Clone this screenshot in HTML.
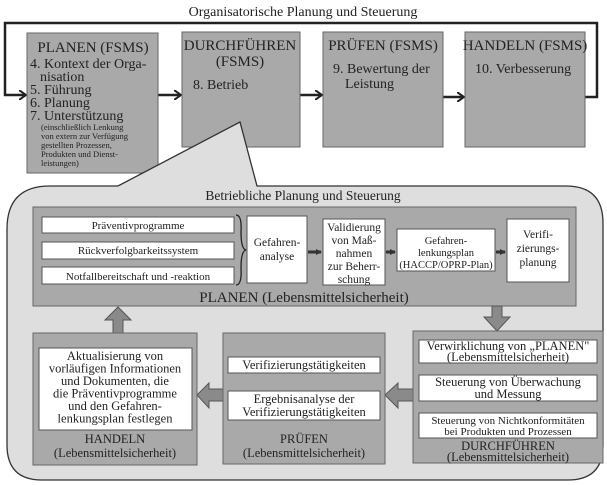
<!DOCTYPE html>
<html><head><meta charset="utf-8"><style>
html,body{margin:0;padding:0;background:#fff}
svg{display:block}
text{font-family:"Liberation Serif",serif;fill:#222}
</style></head><body>
<svg width="607" height="485" viewBox="0 0 607 485" xmlns="http://www.w3.org/2000/svg">
<defs>
<marker id="ah" markerWidth="8" markerHeight="10" refX="6" refY="5" orient="auto" markerUnits="userSpaceOnUse">
<path d="M0,0 L7,5 L0,10" fill="none" stroke="#222" stroke-width="2"/></marker>
<marker id="sh" markerWidth="6" markerHeight="6" refX="5" refY="3" orient="auto" markerUnits="userSpaceOnUse">
<path d="M0,0 L6,3 L0,6z" fill="#333"/></marker>
</defs>
<text x="303" y="16" text-anchor="middle" font-size="14">Organisatorische Planung und Steuerung</text>
<path d="M577,97 H597 V23 H5 V95 H25" fill="none" stroke="#222" stroke-width="2.5" marker-end="url(#ah)"/>
<line x1="158" y1="95" x2="180" y2="95" stroke="#222" stroke-width="2.5" marker-end="url(#ah)"/>
<line x1="300" y1="95" x2="321" y2="95" stroke="#222" stroke-width="2.5" marker-end="url(#ah)"/>
<line x1="443" y1="97" x2="463" y2="97" stroke="#222" stroke-width="2.5" marker-end="url(#ah)"/>
<g stroke="#666" stroke-width="1" fill="#a9a9a9">
<rect x="27" y="33" width="131" height="140"/>
<rect x="182" y="32" width="118" height="115"/>
<rect x="323" y="32" width="120" height="115"/>
<rect x="465" y="32" width="120" height="115"/>
</g>
<text x="93" y="52" text-anchor="middle" font-size="15">PLANEN (FSMS)</text>
<text font-size="14"><tspan x="30" y="68">4. Kontext der Orga-</tspan><tspan x="40" y="81">nisation</tspan><tspan x="30" y="94">5. Führung</tspan><tspan x="30" y="107">6. Planung</tspan><tspan x="30" y="120">7. Unterstützung</tspan></text>
<text font-size="8.5"><tspan x="41" y="130">(einschließlich Lenkung</tspan><tspan x="41" y="139">von extern zur Verfügung</tspan><tspan x="41" y="148">gestellten Prozessen,</tspan><tspan x="41" y="157">Produkten und Dienst-</tspan><tspan x="41" y="166">leistungen)</tspan></text>
<text x="240" y="50" text-anchor="middle" font-size="15">DURCHFÜHREN</text>
<text x="240" y="66" text-anchor="middle" font-size="15">(FSMS)</text>
<text x="193" y="89" font-size="14">8. Betrieb</text>
<text x="383" y="50" text-anchor="middle" font-size="15">PRÜFEN (FSMS)</text>
<text font-size="14"><tspan x="333" y="73">9. Bewertung der</tspan><tspan x="345" y="88">Leistung</tspan></text>
<text x="525" y="50" text-anchor="middle" font-size="15">HANDELN (FSMS)</text>
<text x="475" y="73" font-size="14">10. Verbesserung</text>
<!-- callout -->
<path d="M50,186 H118 L240,122 L257,186 H566 Q603,186 603,223 V445 Q603,480 568,480 H42 Q7,480 7,445 V229 Q7,186 50,186 Z" fill="#dedede" stroke="#333" stroke-width="1.3"/>
<text x="303" y="200" text-anchor="middle" font-size="13.5">Betriebliche Planung und Steuerung</text>
<rect x="33" y="207" width="543" height="99" fill="#a9a9a9" stroke="#666"/>
<g fill="#fff" stroke="#555">
<rect x="42" y="217" width="192" height="16"/>
<rect x="42" y="242" width="192" height="17"/>
<rect x="42" y="267" width="192" height="17"/>
<rect x="247" y="216" width="60" height="67"/>
<rect x="323" y="219" width="62" height="66"/>
<rect x="397" y="229" width="98" height="42"/>
<rect x="507" y="219" width="62" height="63"/>
</g>
<path d="M236,215 Q242,215 241,232 Q241,249 246,250 Q241,251 241,268 Q242,285 236,285" fill="none" stroke="#222" stroke-width="1.3"/>
<g font-size="11" text-anchor="middle">
<text x="138" y="229">Präventivprogramme</text>
<text x="138" y="254">Rückverfolgbarkeitssystem</text>
<text x="138" y="280">Notfallbereitschaft und -reaktion</text>
</g>
<g font-size="10.5" text-anchor="middle">
<text x="446" y="244">Gefahren-</text><text x="446" y="256">lenkungsplan</text><text x="446" y="268">(HACCP/OPRP-Plan)</text>
</g>
<g font-size="11.5" text-anchor="middle">
<text x="277" y="246">Gefahren-</text><text x="277" y="260">analyse</text>
<text x="354" y="231">Validierung</text><text x="354" y="244">von Maß-</text><text x="354" y="257">nahmen</text><text x="354" y="270">zur Beherr-</text><text x="354" y="283">schung</text>
<text x="538" y="238">Verifi-</text><text x="538" y="252">zierungs-</text><text x="538" y="266">planung</text>
</g>
<g stroke="#333" stroke-width="3" marker-end="url(#sh)">
<line x1="308" y1="252" x2="321" y2="252"/>
<line x1="386" y1="252" x2="395" y2="252"/>
<line x1="496" y1="252" x2="505" y2="252"/>
</g>
<text x="304" y="302" text-anchor="middle" font-size="15">PLANEN (Lebensmittelsicherheit)</text>
<!-- block arrows -->
<g fill="#8a8a8a" stroke="#555">
<path d="M113,333 V320 H105 L118,307 L131,320 H123 V333 Z"/>
<path d="M492,306 V317 H484 L497,331 L510,317 H502 V306 Z"/>
<path d="M413,389 H398 V383 L385,395 L398,408 V401 H413 Z"/>
<path d="M223,389 H209 V383 L197,395 L209,408 V401 H223 Z"/>
</g>
<g fill="#a9a9a9" stroke="#666">
<rect x="33" y="333" width="164" height="132"/>
<rect x="223" y="333" width="162" height="131"/>
<rect x="413" y="331" width="190" height="132"/>
</g>
<g fill="#fff" stroke="#555">
<rect x="39" y="348" width="153" height="82"/>
<rect x="228" y="357" width="152" height="16"/>
<rect x="228" y="391" width="152" height="29"/>
<rect x="419" y="340" width="178" height="23"/>
<rect x="419" y="375" width="178" height="26"/>
<rect x="419" y="413" width="178" height="25"/>
</g>
<g font-size="12.5" text-anchor="middle">
<text x="115" y="360">Aktualisierung von</text><text x="115" y="372.5">vorläufigen Informationen</text><text x="115" y="385">und Dokumenten, die</text><text x="115" y="397.5">die Präventivprogramme</text><text x="115" y="410">und den Gefahren-</text><text x="115" y="422.5">lenkungsplan festlegen</text>
<text x="115" y="443">HANDELN</text><text x="115" y="457">(Lebensmittelsicherheit)</text>
<text x="304" y="369">Verifizierungstätigkeiten</text>
<text x="304" y="403">Ergebnisanalyse der</text><text x="304" y="416">Verifizierungstätigkeiten</text>
<text x="304" y="443">PRÜFEN</text><text x="304" y="457">(Lebensmittelsicherheit)</text>
<text x="508" y="350">Verwirklichung von „PLANEN"</text><text x="508" y="361">(Lebensmittelsicherheit)</text>
<text x="508" y="386">Steuerung von Überwachung</text><text x="508" y="398">und Messung</text>
<text x="508" y="450">DURCHFÜHREN</text><text x="508" y="461">(Lebensmittelsicherheit)</text>
</g>
<g font-size="11" text-anchor="middle">
<text x="508" y="424">Steuerung von Nichtkonformitäten</text><text x="508" y="435">bei Produkten und Prozessen</text>
</g>
</svg>
</body></html>
